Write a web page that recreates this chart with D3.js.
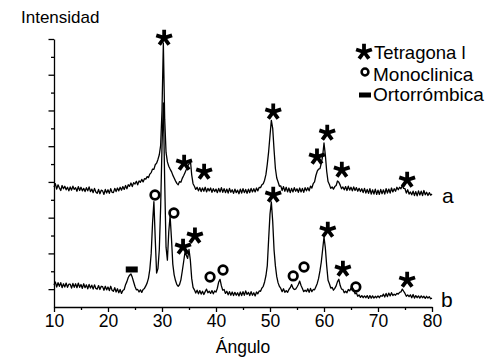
<!DOCTYPE html>
<html><head><meta charset="utf-8">
<script src="https://cdn.jsdelivr.net/npm/d3@7"></script>
<style>
body{margin:0;background:#fff}
svg{display:block}
text{font-family:"Liberation Sans",Arial,Helvetica,sans-serif;fill:#000}
</style>
</head><body>
<svg id="chart" width="499" height="362"></svg>
<script>
// Angle grid (2θ, degrees): from 10 to 80 in steps of 0.25
const angleStart = 10, angleEnd = 80, angleStep = 0.25;

// Curve a (upper pattern), intensity in arbitrary counts
const seriesA = [
672,690,660,684, 666,652,680,662, 676,656,670,650, 672,654,676,658,
668,648,674,652, 670,650,664,646, 668,650,672,646, 660,640,664,644,
636,658,634,654, 650,630,658,638, 656,636,662,642, 640,664,646,666,
650,670,654,674, 658,680,662,684, 676,694,674,696, 688,704,684,706,
698,714,700,718, 716,730,724,744, 752,772,770,796, 805,826,852,905,
1100,1478,1050,865, 812,788,772,758, 738,722,706,692, 684,702,698,720,
735,752,770,790, 800,823,740,690, 676,658,670,650, 668,646,666,648,
670,644,664,650, 666,642,662,646, 660,640,664,644, 668,642,662,640,
660,638,664,642, 656,636,660,640, 654,634,660,638, 662,640,658,636,
660,640,664,644, 662,644,666,650, 670,668,684,690, 710,742,800,870,
960,1045,1000,880, 775,722,700,676, 678,652,674,648, 670,644,666,640,
664,644,668,648, 662,642,666,644, 664,642,668,650, 668,650,676,666,
690,700,736,760, 772,774,804,845, 918,850,760,702, 686,664,672,660,
674,680,705,698, 682,662,672,656, 674,652,676,654, 670,650,672,652,
668,648,664,646, 662,640,664,638, 658,636,662,632, 656,632,660,630,
654,630,658,634, 656,632,662,638, 660,638,666,644, 662,648,670,656,
670,662,680,664, 662,638,656,632, 644,628,648,624, 646,622,650,626,
648,624,652,628, 642,624,640,626, 633
];

// Curve b (lower pattern)
const seriesB = [
123,140,112,136, 116,136,108,130, 112,134,110,128, 128,106,132,110,
130,108,134,110, 126,104,130,108, 124,102,126,106, 122,100,124,104,
100,120,98,116, 114,94,116,96, 112,92,116,94, 88,108,84,102,
80,98,76,92, 98,125,142,165, 178,185,166,140, 115,96,98,84,
96,82,98,104, 118,135,162,212, 300,470,590,380, 190,215,320,560,
900,1142,700,335, 262,420,510,385, 240,180,148,125, 116,126,152,200,
252,305,290,272, 322,262,160,110, 96,78,94,74, 92,72,88,70,
86,100,80,88, 76,92,74,90, 84,105,140,155, 118,94,98,76,
88,68,86,66, 84,64,82,66, 80,62,84,64, 86,66,90,70,
82,64,86,66, 80,62,84,74, 90,88,106,116, 140,175,232,380,
520,588,480,320, 230,170,135,115, 104,86,102,82, 92,82,98,108,
126,106,98,100, 112,126,145,120, 104,86,94,86, 102,82,104,86,
98,96,114,132, 160,202,252,322, 392,330,230,150, 130,106,110,94,
104,118,142,155, 120,100,98,80, 88,80,98,90, 104,110,98,74,
78,60,68,54, 64,52,62,52, 64,48,64,50, 62,50,60,52,
62,52,64,60, 72,56,76,58, 78,62,80,64, 72,66,76,72,
82,84,100,88, 76,60,68,58, 68,52,70,50, 64,52,62,50,
62,52,60,48, 60,50,58,46, 50
];

// Axis ticks
const xTickValues = [10,20,30,40,50,60,70,80];
const xMinorTickValues = [15,25,35,45,55,65,75];
const yMajorTickValues = [100,300,500,700,900,1100,1300,1500];
const yMinorTickValues = [200,400,600,800,1000,1200,1400];

// Phase annotations (angle, intensity)
const tetragonalAngles = [30.4, 34.1, 37.8, 50.6, 58.7, 60.6, 63.3, 75.4, 33.9, 36.1, 50.6, 60.7, 63.5, 75.4];
const tetragonalValues = [1506, 806, 756, 1092, 840, 974, 767, 711, 336, 398, 627, 431, 213, 151];
const monoclinicAngles = [28.7, 32.2, 38.9, 41.3, 54.3, 56.3, 65.9];
const monoclinicValues = [627, 526, 168, 207, 174, 224, 112];
const orthorhombicAngles = [24.4];
const orthorhombicValues = [210];

const legendLabels = ["Tetragona l", "Monoclinica", "Ortorrómbica"];
const curveLabels = ["a", "b"];

const svg = d3.select("#chart");
const x = d3.scaleLinear().domain([angleStart, angleEnd]).range([54, 432]);
const y = d3.scaleLinear().domain([0, 1500]).range([307, 39]);

// Axes
const gx = svg.append("g").attr("transform", "translate(0,307)")
  .call(d3.axisBottom(x).tickValues(xTickValues).tickSize(5).tickSizeOuter(0).tickPadding(3));
gx.selectAll("text").style("font-size", "17.5px").attr("dy", "0.71em");
svg.append("g").attr("transform", "translate(0,307)")
  .call(d3.axisBottom(x).tickValues(xMinorTickValues).tickSize(3).tickFormat(""))
  .select(".domain").remove();

svg.append("g").attr("transform", "translate(54,0)")
  .call(d3.axisLeft(y).tickValues(yMajorTickValues).tickSize(5.5).tickSizeOuter(0).tickFormat(""));
svg.append("g").attr("transform", "translate(54,0)")
  .call(d3.axisLeft(y).tickValues(yMinorTickValues).tickSize(3).tickFormat(""))
  .select(".domain").remove();
svg.selectAll(".domain, .tick line").attr("stroke", "#000").attr("stroke-width", 1.3);

// Lines
const line = d3.line()
  .x((d, i) => x(angleStart + i * angleStep))
  .y(d => y(d));
[seriesA, seriesB].forEach(s => {
  svg.append("path").datum(s).attr("d", line)
    .attr("fill", "none").attr("stroke", "#000").attr("stroke-width", 1.3)
    .attr("stroke-linejoin", "round");
});

// Asterisk symbol (5 arms)
function starPath(r) {
  const p = d3.path();
  for (let k = 0; k < 5; k++) {
    const a = (k * 72 - 90) * Math.PI / 180;
    p.moveTo(0, 0);
    p.lineTo(r * Math.cos(a), r * Math.sin(a));
  }
  return p.toString();
}
function drawStar(g, cx, cy) {
  g.append("path").attr("d", starPath(8.3))
    .attr("transform", `translate(${cx},${cy})`)
    .attr("fill", "none").attr("stroke", "#000").attr("stroke-width", 3.8)
    .attr("stroke-linecap", "butt");
}
function drawCircle(g, cx, cy, r, sw) {
  g.append("circle").attr("cx", cx).attr("cy", cy).attr("r", r)
    .attr("fill", "none").attr("stroke", "#000").attr("stroke-width", sw);
}
function drawBar(g, cx, cy, w, h) {
  g.append("rect").attr("x", cx - w / 2).attr("y", cy - h / 2)
    .attr("width", w).attr("height", h).attr("fill", "#000");
}

const marks = svg.append("g");
tetragonalAngles.forEach((a, i) => drawStar(marks, x(a), y(tetragonalValues[i])));
monoclinicAngles.forEach((a, i) => drawCircle(marks, x(a), y(monoclinicValues[i]), 4.3, 2.7));
orthorhombicAngles.forEach((a, i) => drawBar(marks, x(a), y(orthorhombicValues[i]), 12, 6));

// Legend
const lg = svg.append("g");
drawStar(lg, 364, 52);
drawCircle(lg, 365, 72, 3.4, 2.5);
drawBar(lg, 365, 95, 12, 5);
lg.append("text").attr("x", 374).attr("y", 59).text(legendLabels[0]).style("font-size", "18.5px");
lg.append("text").attr("x", 373).attr("y", 81).text(legendLabels[1]).style("font-size", "19px");
lg.append("text").attr("x", 373).attr("y", 101).text(legendLabels[2]).style("font-size", "19px");

// Curve labels
svg.append("text").attr("x", 442).attr("y", 203).text(curveLabels[0]).style("font-size", "21px");
svg.append("text").attr("x", 441).attr("y", 307).text(curveLabels[1]).style("font-size", "21px");

// Axis titles
svg.append("text").attr("x", 243).attr("y", 353).attr("text-anchor", "middle")
  .text("Ángulo").style("font-size", "17.5px");
svg.append("text").attr("x", 21).attr("y", 23).text("Intensidad").style("font-size", "17px");
</script>
</body></html>
